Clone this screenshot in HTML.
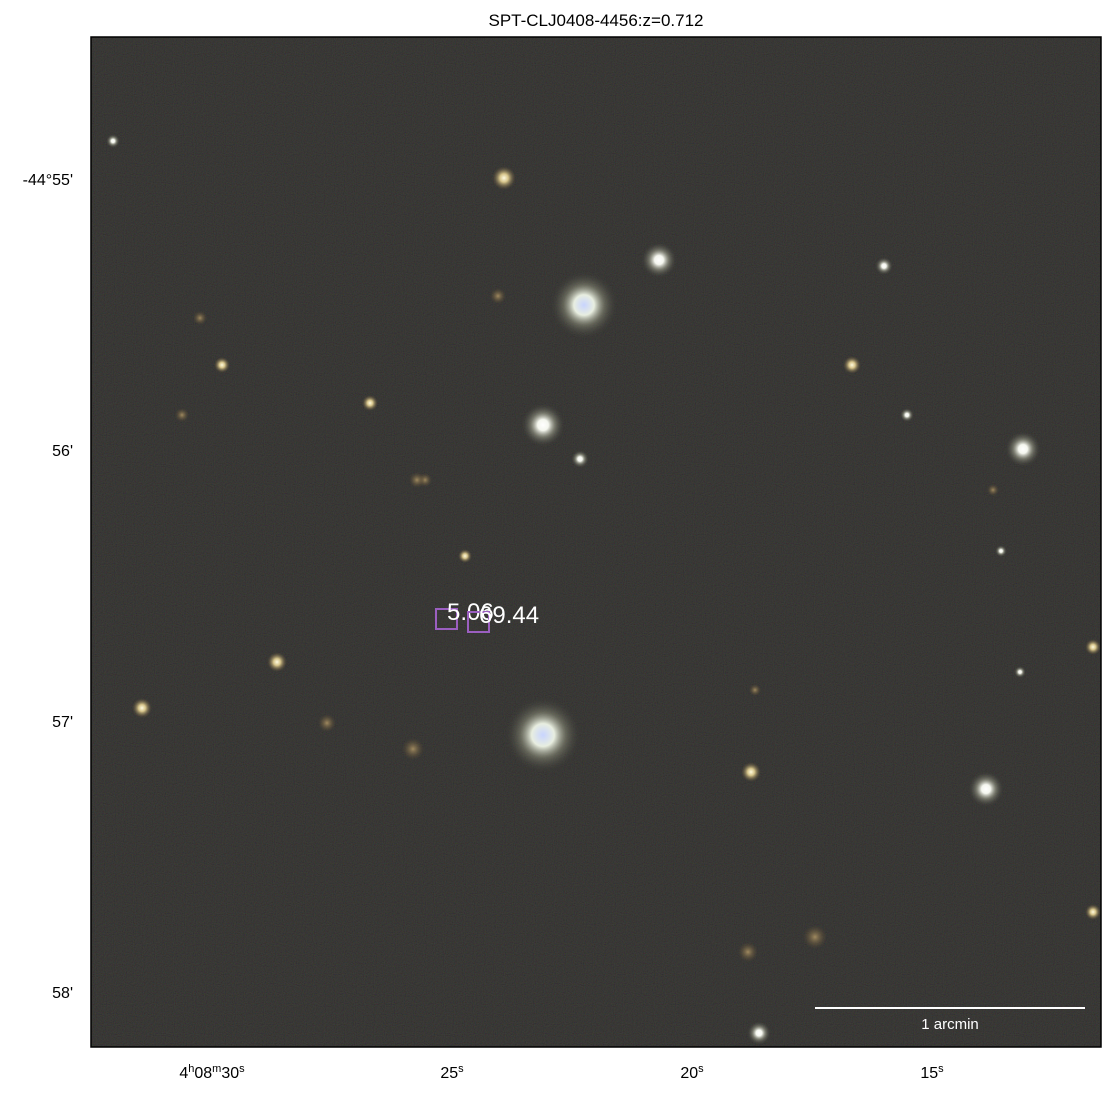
<!DOCTYPE html>
<html><head><meta charset="utf-8"><style>
body{margin:0;background:#fff;width:1112px;height:1093px;overflow:hidden;font-family:"Liberation Sans","DejaVu Sans",sans-serif}
</style></head><body>
<svg width="1112" height="1093" xmlns="http://www.w3.org/2000/svg" id="svg">
<defs>
<filter id="noise" x="0" y="0" width="100%" height="100%">
<feTurbulence type="fractalNoise" baseFrequency="0.9" numOctaves="1" seed="3" result="t"/>
<feColorMatrix in="t" type="matrix" values="0.6 0 0 0 -0.1  0 0.6 0 0 -0.1  0 0 0.6 0 -0.1  0 0 0 0 0.18"/>
</filter>
<radialGradient id="starW"><stop offset="0" stop-color="#ffffff"/><stop offset="0.25" stop-color="#f4f6ee"/><stop offset="0.55" stop-color="#9a9c8a" stop-opacity="0.6"/><stop offset="1" stop-color="#3a3a34" stop-opacity="0"/></radialGradient>
<radialGradient id="starB"><stop offset="0" stop-color="#c8d4ff"/><stop offset="0.3" stop-color="#e8eee0"/><stop offset="0.6" stop-color="#8a8c78" stop-opacity="0.55"/><stop offset="1" stop-color="#3a3a34" stop-opacity="0"/></radialGradient>
<radialGradient id="starY"><stop offset="0" stop-color="#fffbe0"/><stop offset="0.35" stop-color="#d6c48a"/><stop offset="1" stop-color="#5a4a30" stop-opacity="0"/></radialGradient>
<radialGradient id="gal"><stop offset="0" stop-color="#a08a60"/><stop offset="1" stop-color="#5a4a30" stop-opacity="0"/></radialGradient>
<clipPath id="clip"><rect x="91" y="37" width="1010" height="1010"/></clipPath>
</defs>
<text x="596" y="26" text-anchor="middle" font-size="17" fill="#000">SPT-CLJ0408-4456:z=0.712</text>
<g clip-path="url(#clip)">
<rect x="91" y="37" width="1010" height="1010" fill="#2a2926"/>
<rect x="91" y="37" width="1010" height="1010" filter="url(#noise)"/>
<g id="stars"></g>
</g>
<rect x="91" y="37" width="1010" height="1010" fill="none" stroke="#000" stroke-width="1.5"/>
<g id="boxes"></g>
<line x1="815" y1="1008" x2="1085" y2="1008" stroke="#fff" stroke-width="2"/>
<text x="950" y="1029" text-anchor="middle" font-size="15" fill="#fff">1 arcmin</text>
<g id="xticks" font-size="16" fill="#000" text-anchor="middle"></g>
<g id="yticks" font-size="16" fill="#000" text-anchor="end"></g>
</svg>
<script>
// star catalogue: x, y (pixel in image), radius, type
const starX=[584,543,543,659,1023,986,504,580,884,852,759,277,142,751,113,222,370,413,465,327,815,748,1093,1093,1001,200,498,425,907,993,417,1020,182,755];
const starY=[305,735,425,260,449,789,178,459,266,365,1033,662,708,772,141,365,403,749,556,723,937,952,647,912,551,318,296,480,415,490,480,672,415,690];
const starR=[34,38,22,18,18,18,12,9,9,9,12,10,10,10,7,8,8,11,7,9,12,10,8,8,6,7,8,7,7,6,8,6,7,6];
const starT=["B","B","W","W","W","W","Y","W","W","Y","W","Y","Y","Y","W","Y","Y","G","Y","G","G","G","Y","Y","W","G","G","G","W","G","G","W","G","G"];
const boxLabels=["5.06","69.44"];
const boxX=[436,468];const boxY=[609,612];
const xTickLabels=['4<tspan dy="-6" font-size="11">h</tspan><tspan dy="6">08</tspan><tspan dy="-6" font-size="11">m</tspan><tspan dy="6">30</tspan><tspan dy="-6" font-size="11">s</tspan>','25<tspan dy="-6" font-size="11">s</tspan>','20<tspan dy="-6" font-size="11">s</tspan>','15<tspan dy="-6" font-size="11">s</tspan>'];
const xTickPos=[212,452,692,932];
const yTickLabels=["-44°55'","56'","57'","58'"];
const yTickPos=[180,451,722,993];
const NS="http://www.w3.org/2000/svg";
const sg=document.getElementById('stars');
const grad={B:'starB',W:'starW',Y:'starY',G:'gal'};
for(let i=0;i<starX.length;i++){
  const c=document.createElementNS(NS,'circle');
  
  
  c.setAttribute('cx',starX[i]);c.setAttribute('cy',starY[i]);c.setAttribute('r',starR[i]);
  c.setAttribute('fill','url(#'+grad[starT[i]]+')');
  sg.appendChild(c);
}
const bg=document.getElementById('boxes');
for(let i=0;i<boxX.length;i++){
  const r=document.createElementNS(NS,'rect');
  
  
  r.setAttribute('x',boxX[i]);r.setAttribute('y',boxY[i]);r.setAttribute('width',21);r.setAttribute('height',20);
  r.setAttribute('fill','none');r.setAttribute('stroke','#9b5fc0');r.setAttribute('stroke-width','2');
  bg.appendChild(r);
  const t=document.createElementNS(NS,'text');
  
  
  t.setAttribute('x',boxX[i]+11);t.setAttribute('y',boxY[i]+11);
  t.setAttribute('font-size','24');t.setAttribute('fill','#fff');
  t.textContent=boxLabels[i];
  bg.appendChild(t);
}
const xg=document.getElementById('xticks');
for(let i=0;i<xTickLabels.length;i++){
  const t=document.createElementNS(NS,'text');
  
  
  t.setAttribute('x',xTickPos[i]);t.setAttribute('y',1078);
  t.innerHTML=xTickLabels[i];xg.appendChild(t);
}
const yg=document.getElementById('yticks');
for(let i=0;i<yTickLabels.length;i++){
  const t=document.createElementNS(NS,'text');
  
  
  t.setAttribute('x',73);t.setAttribute('y',yTickPos[i]+5);
  t.textContent=yTickLabels[i];yg.appendChild(t);
}
</script>
</body></html>
